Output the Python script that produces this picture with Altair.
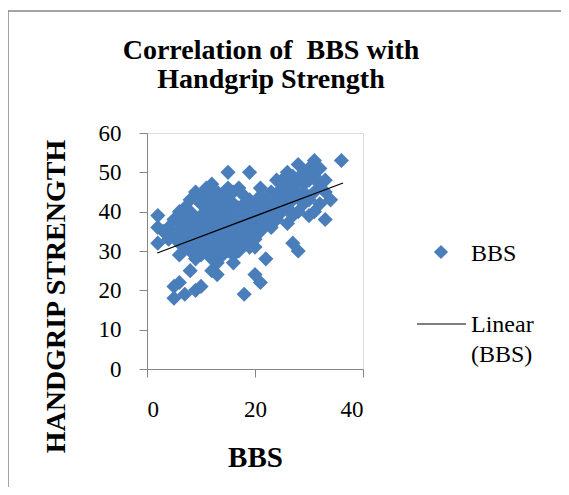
import altair as alt
import pandas as pd

# BBS (x) and handgrip strength (y) values
bbs = [2, 2, 2, 3, 4, 4,
       5, 5, 5, 5,
       6, 6, 6, 6, 6, 6,
       7, 7, 7, 7, 7, 7,
       8, 8, 8, 8, 8, 8,
       9, 9, 9, 9, 9, 9, 9,
       10, 10, 10, 10, 10, 10, 10, 10,
       11, 11, 11, 11, 11, 11, 11,
       12, 12, 12, 12, 12, 12, 12, 12,
       13, 13, 13, 13, 13, 13, 13, 13,
       14, 14, 14, 14, 14, 14, 14,
       15, 15, 15, 15, 15, 15, 15, 15,
       16, 16, 16, 16, 16, 16, 16,
       17, 17, 17, 17, 17, 17,
       18, 18, 18, 18, 18, 18,
       19, 19, 19, 19, 19, 19,
       20, 20, 20, 20, 20, 20,
       21, 21, 21, 21, 21, 21,
       22, 22, 22, 22,
       23, 23, 23, 23,
       24, 24, 24, 24,
       25, 25, 25, 25,
       26, 26, 26, 26, 26,
       27, 27, 27, 27, 27,
       28, 28, 28, 28, 28,
       29, 29, 29, 29,
       30, 30, 30, 30,
       31, 31, 31, 31,
       32, 32, 32,
       33, 33, 33,
       34, 36]
handgrip = [39, 36, 32, 35, 36, 33,
            18, 34, 21, 38,
            29, 32, 22, 35, 37, 40,
            19, 33, 36, 39, 41, 31,
            25, 30, 34, 37, 40, 43,
            20, 28, 32, 35, 38, 45, 30,
            29, 33, 36, 39, 42, 44, 31, 21,
            30, 34, 37, 40, 43, 46, 32,
            25, 28, 31, 35, 38, 41, 47, 44,
            24, 27, 30, 33, 36, 39, 42, 45,
            29, 32, 35, 38, 41, 44, 36,
            50, 30, 34, 37, 40, 43, 46, 33,
            27, 31, 35, 38, 42, 45, 29,
            30, 33, 36, 39, 46, 41,
            19, 32, 35, 38, 42, 44,
            50, 31, 34, 37, 40, 43,
            24, 31, 33, 36, 39, 42,
            22, 35, 38, 41, 46, 44,
            28, 37, 40, 43,
            36, 39, 42, 45,
            38, 41, 44, 48,
            40, 43, 46, 48,
            37, 41, 44, 47, 50,
            32, 39, 43, 46, 49,
            30, 40, 44, 48, 52,
            42, 45, 50, 47,
            39, 43, 48, 51,
            40, 45, 53, 49,
            42, 47, 51,
            38, 45, 48,
            43, 53]

# Linear trend line end points
trend_x = [1.9, 36.3]
trend_y = [29.5, 47.3]

x_ticks = [0, 20, 40]
y_ticks = [0, 10, 20, 30, 40, 50, 60]

legend_labels = ["BBS", "Linear\n(BBS)"]
title_lines = ["Correlation of\u00a0 BBS with", "Handgrip Strength"]

FONT = "Liberation Serif"
BLUE = "#4A7EBB"
GRAY = "#868686"

pts = pd.DataFrame({"BBS": bbs, "HG": handgrip})
trend = pd.DataFrame({"BBS": trend_x, "HG": trend_y})

xs = alt.Scale(domain=[0, 40], nice=False, zero=False)
ys = alt.Scale(domain=[0, 60], nice=False, zero=False)

x_axis = alt.Axis(values=x_ticks, grid=False, domainColor=GRAY, tickColor=GRAY,
                  tickSize=8, labelFont=FONT, labelFontSize=23, labelColor="black",
                  labelPadding=21, labelBaseline="top", labelOverlap=False,
                  title="BBS", titleFont=FONT, titleFontSize=29, titleFontWeight="bold",
                  titleColor="black", titleY=88, titleBaseline="middle")
y_axis = alt.Axis(values=y_ticks, grid=False, domainColor=GRAY,
                  tickColor=GRAY, tickSize=8, labelFont=FONT, labelFontSize=23,
                  labelColor="black", labelPadding=18, labelOverlap=False,
                  labelBaseline="middle",
                  title="HANDGRIP STRENGTH", titleFont=FONT, titleFontSize=28,
                  titleFontWeight="bold", titleColor="black", titleX=-91, titleY=163,
                  titleBaseline="middle", titleAngle=270)

scatter = alt.Chart(pts).mark_point(shape="diamond", filled=True, size=230, opacity=1,
                                    color=BLUE, strokeWidth=0).encode(
    x=alt.X("BBS:Q", scale=xs, axis=x_axis),
    y=alt.Y("HG:Q", scale=ys, axis=y_axis),
)

line = alt.Chart(trend).mark_line(color="black", strokeWidth=1.2).encode(
    x=alt.X("BBS:Q", scale=xs, axis=x_axis),
    y=alt.Y("HG:Q", scale=ys, axis=y_axis),
)

leg_df = pd.DataFrame({"label": legend_labels})

leg_diamond = alt.Chart(leg_df.iloc[[0]]).mark_point(
    shape="diamond", filled=True, size=200, opacity=1, color=BLUE, strokeWidth=0
).encode(x=alt.value(294), y=alt.value(119))

leg_line = alt.Chart(leg_df.iloc[[1]]).mark_rule(color="black", strokeWidth=1.2).encode(
    x=alt.value(270), x2=alt.value(319), y=alt.value(191)
)

leg_text1 = alt.Chart(leg_df.iloc[[0]]).mark_text(
    font=FONT, fontSize=24, align="left", baseline="alphabetic", color="black"
).encode(x=alt.value(324), y=alt.value(128), text="label:N")

leg_text2 = alt.Chart(leg_df.iloc[[1]]).mark_text(
    font=FONT, fontSize=24, align="left", baseline="alphabetic", color="black",
    lineBreak="\n", lineHeight=30
).encode(x=alt.value(324), y=alt.value(199), text="label:N")

frame_left = alt.Chart(leg_df.iloc[[0]]).mark_rule(color=GRAY, strokeWidth=1.5).encode(
    x=alt.value(-139), y=alt.value(-122), y2=alt.value(420)
)
frame_top = alt.Chart(leg_df.iloc[[0]]).mark_rule(color=GRAY, strokeWidth=1.5).encode(
    x=alt.value(-139), x2=alt.value(460), y=alt.value(-122)
)

chart = alt.layer(
    frame_left, frame_top, scatter, line, leg_diamond, leg_line, leg_text1, leg_text2
).properties(
    width=216,
    height=236,
    title=alt.Title(title_lines, font=FONT,
                    fontSize=28, fontWeight="bold", color="black", anchor="middle",
                    lineHeight=29, offset=-84, dx=16),
    autosize=alt.AutoSizeParams(type="none"),
    padding={"left": 139, "top": 125, "right": 198, "bottom": 118},
).configure_view(strokeWidth=0).configure(background="white")

chart.save("out.html", embed_options={"renderer": "svg", "actions": False})
